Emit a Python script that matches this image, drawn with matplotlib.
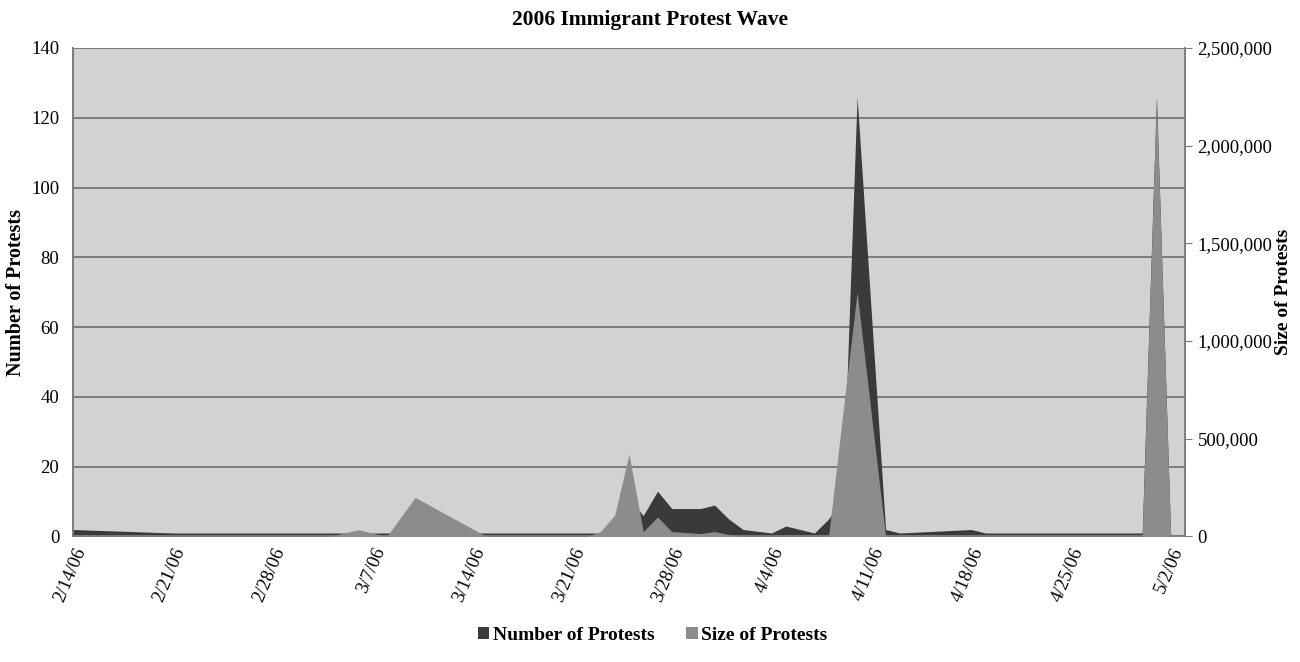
import matplotlib

matplotlib.use('Agg')
import matplotlib.pyplot as plt
import matplotlib.dates as mdates
import matplotlib.ticker as mticker
import numpy as np
import pandas as pd

# Datos (fechas con protestas)
fechas = ['2006-02-14', '2006-02-21', '2006-02-28', '2006-03-04', '2006-03-06', '2006-03-08',
          '2006-03-10', '2006-03-15', '2006-03-22', '2006-03-23', '2006-03-24', '2006-03-25',
          '2006-03-26', '2006-03-27', '2006-03-28', '2006-03-29', '2006-03-30', '2006-03-31',
          '2006-04-01', '2006-04-02', '2006-04-04', '2006-04-05', '2006-04-06', '2006-04-07',
          '2006-04-08', '2006-04-09', '2006-04-10', '2006-04-12', '2006-04-13', '2006-04-18',
          '2006-04-19', '2006-04-30', '2006-05-01', '2006-05-02']
num_protestas = [2, 1, 1, 1, 1, 1, 1, 1, 1, 1, 1, 11, 6, 13, 8, 8, 8, 9, 5, 2, 1, 3, 2, 1,
                 5, 11, 126, 2, 1, 2, 1, 1, 126, 0]
tam_protestas = [0, 0, 0, 0, 35000, 0, 200000, 0, 0, 25000, 110000, 422000, 25000, 100000,
                 25000, 20000, 15000, 25000, 10000, 0, 0, 0, 0, 0, 0, 630000, 1250000, 0, 0, 0,
                 0, 0, 2240000, 0]
ticks_fechas = ['2006-02-14', '2006-02-21', '2006-02-28', '2006-03-07', '2006-03-14', '2006-03-21',
                '2006-03-28', '2006-04-04', '2006-04-11', '2006-04-18', '2006-04-25', '2006-05-02']

x = pd.to_datetime(fechas)
xt = pd.to_datetime(ticks_fechas)

plt.rcParams['font.family'] = ['Liberation Serif', 'DejaVu Serif']

color_fondo = '#d2d2d2'
color_num = '#3a3a3a'
color_tam = '#8c8c8c'
color_linea = '#7c7c7c'

fig = plt.figure(figsize=(13, 6.62), dpi=100)
ax = fig.add_axes([0.0562, 0.1896, 0.9115 - 0.0562, 0.9275 - 0.1896])
ax.set_facecolor(color_fondo)

ax.fill_between(x, num_protestas, 0, color=color_num, linewidth=0, label='Number of Protests', zorder=2)
ax.set_ylim(0, 140)
ax.set_yticks(np.arange(0, 141, 20))
ax.set_xlim(pd.Timestamp('2006-02-14'), pd.Timestamp('2006-05-03'))
ax.set_axisbelow(True)
ax.yaxis.grid(True, color=color_linea, linewidth=1.4)
ax.tick_params(axis='y', length=0, labelsize=13.5, pad=10)
ax.tick_params(axis='x', length=0, labelsize=13.5, pad=6)

ax.set_xticks(xt)
ax.xaxis.set_major_formatter(mdates.DateFormatter('%-m/%-d/%y'))
for lbl in ax.get_xticklabels():
    lbl.set_rotation(67)
    lbl.set_ha('right')
    lbl.set_va('top')
    lbl.set_rotation_mode('anchor')

ax2 = ax.twinx()
ax2.fill_between(x, tam_protestas, 0, color=color_tam, linewidth=0, label='Size of Protests', zorder=3)
ax2.set_ylim(0, 2500000)
ax2.set_yticks(np.arange(0, 2500001, 500000))
ax2.yaxis.set_major_formatter(mticker.FuncFormatter(lambda v, p: f'{int(v):,}'))
ax2.tick_params(axis='y', length=5, color=color_linea, labelsize=13.5, pad=4)

for a in (ax, ax2):
    a.spines['top'].set_visible(False)
    for s in ('left', 'right', 'bottom'):
        a.spines[s].set_color(color_linea)
        a.spines[s].set_linewidth(1.2)

ax.set_ylabel('Number of Protests', fontsize=14.5, fontweight='bold')
ax.yaxis.set_label_coords(-0.042, 0.5)
ax2.set_ylabel('Size of Protests', fontsize=14, fontweight='bold')
ax2.yaxis.set_label_coords(1.081, 0.5)
fig.suptitle('2006 Immigrant Protest Wave', fontsize=15.5, fontweight='bold', x=0.5, y=0.985)

h1, l1 = ax.get_legend_handles_labels()
h2, l2 = ax2.get_legend_handles_labels()
fig.legend(h1 + h2, l1 + l2, loc='center', bbox_to_anchor=(0.502, 0.04), ncol=2, frameon=False,
           prop={'size': 14, 'weight': 'bold'}, handlelength=0.6, handleheight=0.6,
           handletextpad=0.2, columnspacing=1.6)

plt.savefig('out.png', dpi=100)
plt.close()
